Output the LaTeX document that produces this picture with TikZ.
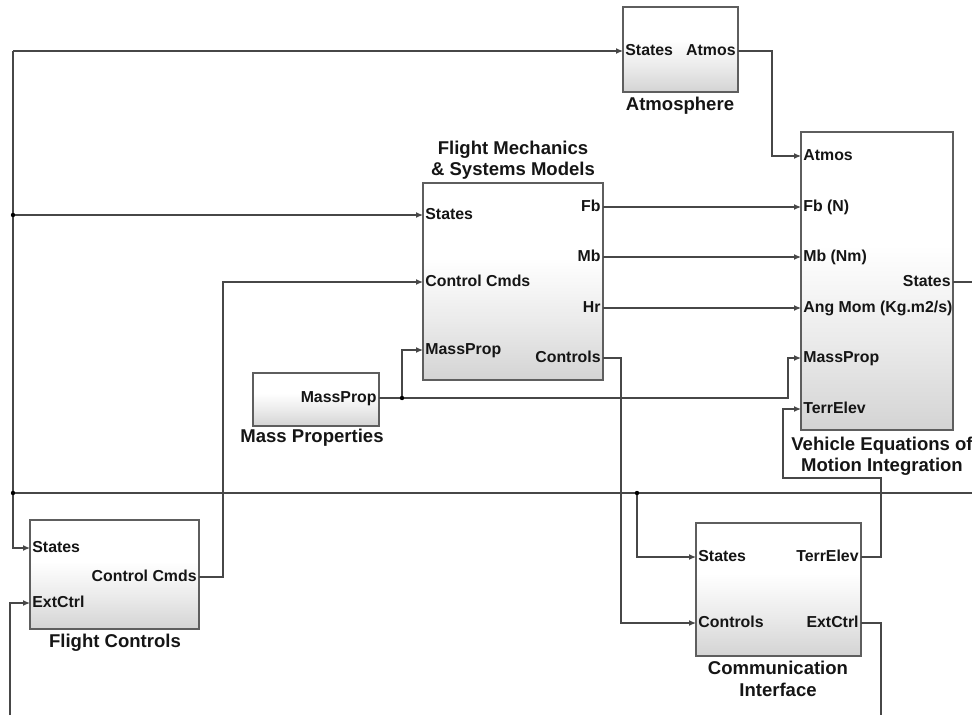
\documentclass[tikz,border=0pt]{standalone}
\usepackage{fontspec}
\setmainfont{Liberation Sans}
\usetikzlibrary{arrows.meta}
\definecolor{wire}{HTML}{474747}
\definecolor{edgegray}{HTML}{5E5E5E}
\definecolor{ink}{HTML}{151515}
% block fill: white on top fading to light grey at the bottom
\pgfdeclareverticalshading{blockfill}{100bp}{color(0bp)=(black!17); color(25bp)=(black!17); color(40bp)=(black!8); color(56bp)=(white); color(100bp)=(white)}
\newcommand\portfont{\fontsize{11.9}{13}\bfseries\selectfont}
\newcommand\titlefont{\fontsize{13.9}{16}\bfseries\selectfont}
% \blk{name}{x1}{y1}{x2}{y2}: a shaded block spanning the given corners
\newcommand\blk[5]{\node[block, minimum width={(#4-#2)*0.75pt}, minimum height={(#5-#3)*0.75pt}] (#1) at ({(#2+#4)/2},{(#3+#5)/2}) {};}
\tikzset{
  block/.style={draw=edgegray, line width=1.1pt, shade, shading=blockfill, inner sep=0pt},
  portin/.style={anchor=west, inner xsep=1.6pt, inner ysep=0pt, text height=0.72em, text depth=0pt, font=\portfont, text=ink},
  portout/.style={anchor=east, inner xsep=1.6pt, inner ysep=0pt, text height=0.72em, text depth=0pt, font=\portfont, text=ink},
  caption/.style={font=\titlefont, text=ink, align=center, inner sep=0pt},
  wireline/.style={draw=wire, line width=0.85pt},
  feed/.style={wireline, -{Latex[length=5.2pt,width=4.4pt]}},
  dot/.style={fill=black},
}
\begin{document}
\begin{tikzpicture}[x=0.75pt, y=-0.75pt]
\useasboundingbox (0,0) rectangle (972,715);

% blocks
\blk{atm}{623}{7}{738}{92}
\blk{fm}{423}{183}{603}{380}
\blk{veh}{801}{132}{953}{430}
\blk{mp}{253}{373}{379}{426}
\blk{fc}{30}{520}{199}{629}
\blk{ci}{696}{523}{861}{656}

% captions
\node[caption] (atmT) at (680,106) {Atmosphere};
\node[caption] (fmT) at (513,160) {Flight Mechanics\\\& Systems Models};
\node[caption] (vehT) at (882,456) {Vehicle Equations of\\Motion Integration};
\node[caption] (mpT) at (312,438) {Mass Properties};
\node[caption] (fcT) at (115,643) {Flight Controls};
\node[caption] (ciT) at (778,679) {Communication\\Interface};

% ports: Atmosphere
\node[portin] (atmS) at (623,51) {States};
\node[portout] (atmA) at (738,51) {Atmos};
% ports: Flight Mechanics
\node[portin] (fmS) at (423,215) {States};
\node[portin] (fmCC) at (423,282) {Control Cmds};
\node[portin] (fmM) at (423,350) {MassProp};
\node[portout] (fmFb) at (603,207) {Fb};
\node[portout] (fmMb) at (603,257) {Mb};
\node[portout] (fmHr) at (603,308) {Hr};
\node[portout] (fmC) at (603,358) {Controls};
% ports: Vehicle EOM
\node[portin] (vehA) at (801,156) {Atmos};
\node[portin] (vehFb) at (801,207) {Fb (N)};
\node[portin] (vehMb) at (801,257) {Mb (Nm)};
\node[portin] (vehH) at (801,308) {Ang Mom (Kg.m2/s)};
\node[portin] (vehM) at (801,358) {MassProp};
\node[portin] (vehTE) at (801,409) {TerrElev};
\node[portout] (vehS) at (953,282) {States};
% ports: Mass Properties
\node[portout] (mpM) at (379,398) {MassProp};
% ports: Flight Controls
\node[portin] (fcS) at (30,548) {States};
\node[portin] (fcE) at (30,603) {ExtCtrl};
\node[portout] (fcCC) at (199,577) {Control Cmds};
% ports: Communication Interface
\node[portin] (ciS) at (696,557) {States};
\node[portin] (ciC) at (696,623) {Controls};
\node[portout] (ciTE) at (861,557) {TerrElev};
\node[portout] (ciE) at (861,623) {ExtCtrl};

% wiring points
\coordinate (tl) at (13,51);
\coordinate (j1) at (13,215);
\coordinate (j2) at (13,493);
\coordinate (j3) at (637,493);
\coordinate (busEnd) at (972,493);
\coordinate (statesEnd) at (972,282);
\coordinate (jm) at (402,398);
\coordinate (extIn) at (10,715);
\coordinate (extOut) at (881,715);

% state feedback
\draw[feed] (tl) -- (atmS.west);
\draw[feed] (tl) |- (fcS.west);
\draw[feed] (j1) -- (fmS.west);
\draw[wireline] (j2) -- (busEnd);
\draw[feed] (j3) |- (ciS.west);
\draw[wireline] (vehS.east) -- (statesEnd);

% forces, moments, atmosphere
\draw[feed] (atmA.east) -- ++(34,0) |- (vehA.west);
\draw[feed] (fmFb.east) -- (vehFb.west);
\draw[feed] (fmMb.east) -- (vehMb.west);
\draw[feed] (fmHr.east) -- (vehH.west);

% mass properties
\draw[wireline] (mpM.east) -- (jm);
\draw[feed] (jm) |- (fmM.west);
\draw[feed] (jm) -- (788,398) |- (vehM.west);

% control paths
\draw[feed] (fcCC.east) -- ++(24,0) |- (fmCC.west);
\draw[feed] (fmC.east) -- ++(18,0) |- (ciC.west);
\draw[feed] (extIn) |- (fcE.west);
\draw[wireline] (ciE.east) -- ++(20,0) -- (extOut);
\draw[feed] (ciTE.east) -- ++(20,0) |- (783,478) |- (vehTE.west);

% junction dots
\foreach \p in {j1,j2,j3,jm} \fill[dot] (\p) circle (2.2);
\end{tikzpicture}
\end{document}
